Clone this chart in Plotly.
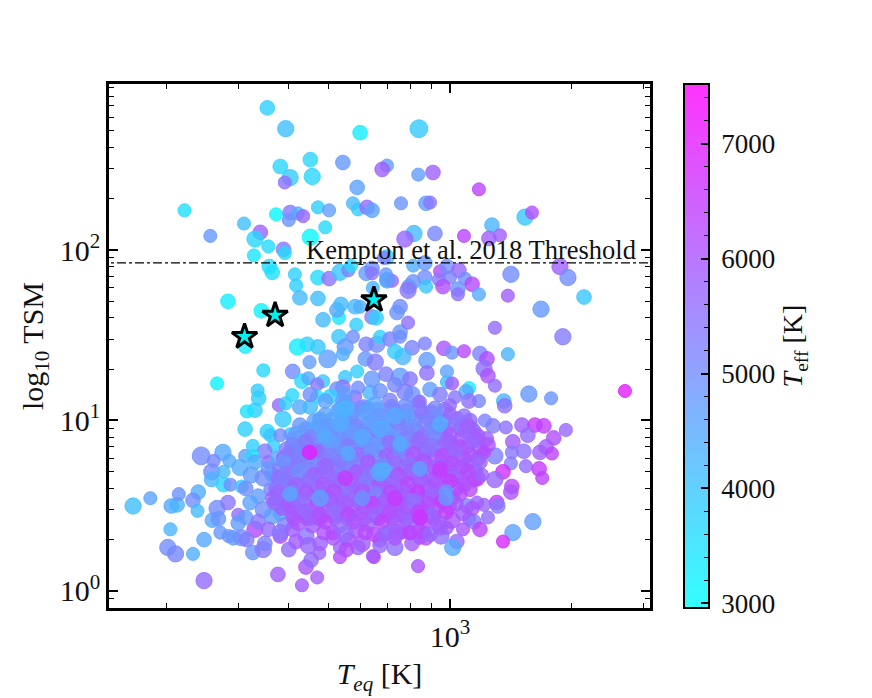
import math
import plotly.graph_objects as go

# sparse planets (outside the dense core)
teq_sparse = [354,393,600,838,452,381,403,457,391,544,699,680,835,908,1179,590,576,593,624,642,
 757,873,893,221,472,503,372,403,421,434,400,310,492,256,340,330,356,328,388,391,
 452,1270,1532,1594,815,774,918,1083,1248,1329,699,687,358,364,414,417,426,472,472,503,
 535,561,570,621,642,642,695,699,719,645,811,867,867,945,983,1052,939,1000,1089,1134,
 961,811,792,873,1046,1046,1179,1414,1869,1956,1390,2143,1678,1900,1291,283,342,312,
 486,532,526,538,583,600,642,657,587,532,576,551,544,499,472,444,420,450,409,346,590,551,431,447,486,470,544,526,
 621,660,618,654,672,711,753,753,788,753,740,788,699,
 266,335,337,330,315,312,354,360,367,326,349,356,312,326,275,243,261,285,258,258,276,276,287,303,323,306,364,391,
 403,381,421,410,400,378,393,387,426,452,408,470,506,544,635,583,628,478,506,452,558,576,541,544,391,381,452,
 165,182,205,212,214,239,232,238,266,283,204,259,268,271,300,300,330,284,292,306,315,247,201,210,232,247,326,346,349,376,431,470,400,441,454,476,535,535,381,441,561,593,645,
 2705,1390,966,1012,1083,1186,1234,1214,1241,1291,1566,1777,1358,1365,1114,983,983,1012,1096,1179,834,877,867,806,765,731,753,877,774,
 1506,1621,1706,1933,1804,1557,1374,1277,1220,1430,1522,1668,1727,1786,1422,1291,1414,1540,1660,1690,1352,1291,1166,1422,1414,1305,1312,1214,1166,1102,1241,1114,1146,1186,1077,1602,1430,1352,1040,1016,950,983,867,843,834,731,649,699,672,761,792,1134,1000]
tsm_sparse = [682,515,488,515,339,309,266,270,249,326,313,297,277,285,227,233,188,173,178,171,
 188,188,190,171,178,171,162,166,164,158,150,143,136,121,127,116,105,93,101,96,
 119,140,156,166,125,116,125,121,117,122,91,90,80,74,72,62,52.5,52,69,68,
 74,76,81,73,78,73,72,66,66,60,81,84,69,75,80,76,67,69,68,63,
 61,65,61,61,59,55,55,72,80,69,54,53,45,31,35,50,44,27,
 39,40,44.5,48,46.5,46.5,40.5,40,36.5,31,31,27,24.5,23,27,28,27,22,19.4,19.7,19.4,18,17,17.7,17,16.3,15.7,15.3,
 28,28,23,22,31,30,33,31,37.5,46.5,43,58,67,
 16.5,15,13.5,11.5,11.3,8.9,8.6,8.2,7.1,7.1,6.6,5.7,6.2,6.2,6.5,6.2,5.8,5.8,5,4.5,5,4.2,4.2,5.3,4.8,4.1,4.8,4.5,
 8.3,8.2,7,6.5,5.3,12.3,12.6,10.2,12,12,14.1,13.8,13.8,13,14.6,13.8,12,9.8,9.3,8.9,10.2,8.2,7.2,5.7,3.2,2.85,2.7,
 3.15,3.5,3.15,3.2,3.7,3.8,3.4,2.95,3.05,3.3,2.3,2.6,2.65,2.2,2.8,2.5,2.3,2.1,2.05,2.05,2,2,1.8,1.65,1.65,1.15,1.68,1.75,1.9,1.25,1.08,1.2,1.75,1.38,1.52,1.67,1.58,1.8,2.1,2.1,2,1.8,1.6,
 14.9,24.5,26.5,25,25.5,24.7,23,20.2,18.3,16,14.3,13.5,13,12.2,15.5,19.4,16.8,16.5,14.7,13,12.8,22.5,28.3,26.7,23.7,25.4,18,19,14.7,
 9.4,9.4,9.3,8.8,7.9,8.2,9.1,9.3,10,7.5,6.6,6.5,7,6.4,6.5,6.2,5.6,5.4,5.2,4.6,5,4.5,4.6,4.1,3.8,3.3,3.15,3.2,3.3,3.15,2.7,2.65,2.55,2.3,2.3,2.55,2.2,1.95,1.95,1.8,2.1,2.35,2.2,2.05,1.4,1.8,1.58,2.2,2,2.2,2.2,9.1,7.4]
teff_sparse = [3800,4100,3300,3900,3700,3700,3900,3700,5500,4800,4700,5800,4700,5800,6300,4600,4200,3900,5600,4600,
 4900,4700,5400,3500,3800,4700,3100,5300,4400,5700,4900,4100,3600,4800,5800,3700,3600,3400,5400,3600,
 3100,4300,4000,6100,4200,5700,5100,6300,5800,5800,3800,5300,3600,3500,3800,3800,4200,4100,3600,5500,
 4000,5200,3600,4700,5000,5400,4800,4300,5700,4300,4400,4800,5000,6200,5000,5700,5400,5200,5000,6200,
 6100,4900,4800,4000,4900,5500,4500,5000,5800,5000,5900,4000,4800,5300,5600,3300,3200,3300,
 4200,3400,4500,4200,4200,4400,5200,3800,3800,4000,5000,4800,4400,4700,4000,3800,3300,4700,5000,3700,3800,4000,3600,4500,4000,5400,5500,4900,
 5200,5000,4800,5300,3800,5200,4800,5000,5500,5000,4900,5400,4600,
 3200,3900,3800,3800,3500,3800,3800,4000,3800,3800,5300,5600,4600,3600,4500,5000,5100,4500,5000,4300,4200,3700,5000,4400,4700,3900,3900,5400,
 4000,5000,5400,4800,4100,5600,3800,3900,4500,4200,3700,3500,3800,4700,4300,5500,3500,4200,4200,4000,4000,5700,5300,5800,4200,4300,4600,
 4100,4600,4500,4300,4900,4400,5000,4200,5000,5400,4300,4500,4900,4800,5600,4700,6200,4900,4800,5000,5300,4500,5000,5100,4400,5600,4900,5400,5200,5800,5900,5900,5600,6000,5600,5700,6200,5800,6200,5400,6300,5700,6000,
 7000,4300,6000,4900,6200,5200,6100,5500,6000,5600,4800,4900,4300,5500,3300,4600,4200,5800,4500,5100,5700,4700,5200,5200,4300,3900,4700,5500,5200,
 5800,6500,6400,5700,6100,5600,5500,5300,5200,5900,5500,5800,5900,6300,5400,5200,5300,5600,6500,6300,6700,5700,6800,6300,6000,6500,5300,5700,5800,5200,5600,5800,5300,6300,6000,4700,4600,6800,5700,4500,5500,5900,5900,5900,6000,5500,6000,4500,5800,6300,5900,4200,4600]
rp_sparse = [2,3,2,4,2,2,3,3,1,2,1,2,1,2,1,2,1,1,2,2,
 1,2,1,1,1,1,1,2,1,1,1,1,1,1,2,3,1,1,2,1,
 3,2,3,1,3,3,2,1,2,1,2,1,2,2,1,1,2,2,2,2,
 3,1,1,2,2,1,1,2,1,1,1,2,2,1,2,2,1,1,1,2,
 2,2,2,1,2,1,1,3,3,3,1,2,3,3,1,2,2,1,
 2,1,2,2,2,1,2,2,1,2,1,3,1,4,2,2,3,1,2,1,1,1,2,1,1,1,2,2,
 2,3,2,3,1,2,2,1,1,2,2,3,2,
 1,1,2,2,1,2,2,1,1,1,2,1,1,1,3,4,1,1,3,2,1,2,1,3,3,1,2,3,
 1,1,2,2,1,1,1,3,2,2,1,1,2,2,2,1,1,3,2,1,3,1,3,2,2,2,3,
 3,1,2,2,1,2,2,1,3,2,1,2,2,1,1,2,3,1,2,3,2,2,3,3,1,3,2,3,2,2,1,1,2,2,2,1,1,1,2,3,2,2,1,
 1,1,2,1,1,2,2,3,2,1,3,1,2,2,1,1,1,1,2,1,1,3,1,2,3,2,4,2,3,
 2,2,2,1,2,2,1,2,1,2,2,2,2,1,1,3,1,1,2,1,2,3,3,2,2,2,2,1,1,2,1,1,2,2,1,3,3,1,2,3,3,1,1,1,1,3,1,2,2,1,1,1,2]

# rim of the dense core: left flank, lower edge, upper edge
teq_rim = [313,336,360,321,346,372,313,336,364,391,356,381,408,417,447,478,515,555,607,672,
 731,806,873,945,1012,1077,1134,403,376,356,346,330,372,417,
 672,731,806,893,551,593,642,695,797,945,1029,1114,492,452]
tsm_rim = [4,3.6,3.95,3.3,3,3.3,2.7,2.55,2.75,2.45,2.3,2.2,2.3,1.95,1.85,1.9,2.05,1.75,1.9,1.85,
 2.05,1.9,2.05,2.35,2.6,2.85,3.05,5.2,6,5.2,4.6,5.7,4.7,6.1,
 14.9,16.2,14.2,15.2,14.3,15.6,17.5,18.7,17.5,14.2,13.7,13,13,14.2]
teff_rim = [5000,4700,5100,4600,5000,5300,4800,5400,4700,5200,5600,5400,5800,5900,5700,5800,6000,6100,5900,5700,
 6000,5900,6100,5800,6000,5900,6000,4600,4500,4800,5000,4500,4900,4700,
 4900,5100,5000,4700,4700,5000,4800,5200,5400,5300,5400,5500,4600,5000]
rp_rim = [2,2,1,2,3,2,2,2,3,2,2,3,2,2,3,2,2,2,3,2,
 2,2,2,2,3,2,2,2,2,2,3,2,2,2,
 2,2,3,2,2,1,3,2,2,2,1,2,2,2]

# second layer of the dense core
teq_fill = [535,574,613,665,719,780,843,900,970,
 478,510,551,600,650,705,762,820,885,960,1040,1120,
 440,474,512,555,604,654,705,766,830,900,975,1060,1150,
 412,445,482,522,566,612,665,720,780,843,910,990,1070,1160,1230,
 395,425,460,498,540,586,635,690,745,805,870,945,1020,1100,1190,
 390,420,455,492,530,575,622,675,730,790,855,925,1000,1085,1175,
 380,412,448,484,525,568,615,668,720,780,845,915,990,1070,1155,
 378,410,445,480,522,565,612,665,715,775,840,910,985,1065,1150,
 372,405,435,472,510,552,600,648,705,762,825,890,960,1040,1120,
 365,395,425,462,500,540,585,635,690,745,805,870,945,1015,
 385,412,450,488,530,575,620,670,728,785,850,920,995,
 412,445,478,520,562,612,665,720,780,842,910,
 515,585,650,740,840]
tsm_fill = [11.7,11.3,12,11.6,11.9,11.4,11.8,11.2,11.6,
 10.2,10,10.4,9.9,10.3,10,10.4,10,10.3,9.9,10.2,10,
 8.9,9.1,8.8,9,8.7,9,8.8,9.1,8.7,9,8.8,9,8.7,
 7.8,7.6,7.9,7.7,8,7.6,7.9,7.7,8,7.7,7.9,7.6,7.9,7.7,7.8,
 6.8,7,6.7,6.9,6.8,7,6.7,6.9,6.8,7,6.7,6.9,6.8,7,6.7,
 6,5.9,6.1,5.9,6,6.1,5.9,6,6.1,5.9,6,6.1,5.9,6,6,
 5.2,5.3,5.1,5.3,5.2,5.3,5.1,5.3,5.2,5.3,5.1,5.3,5.2,5.3,5.1,
 4.6,4.7,4.5,4.7,4.6,4.5,4.7,4.6,4.5,4.7,4.6,4.5,4.7,4.6,4.5,
 4,4.05,3.95,4.05,4,3.95,4.05,4,3.95,4.05,4,3.95,4.05,4,3.95,
 3.5,3.55,3.45,3.55,3.5,3.45,3.55,3.5,3.45,3.55,3.5,3.45,3.55,3.5,
 3.06,3.1,3,3.1,3.05,3,3.1,3.05,3,3.1,3.05,3,3.1,
 2.68,2.7,2.65,2.7,2.68,2.65,2.7,2.68,2.65,2.7,2.68,
 2.2,2.25,2.15,2.2,2.25]
teff_fill = [4800,4700,5100,4800,5000,4800,5300,5500,5300,
 4700,4500,4800,4700,4600,4900,4700,5200,5400,5000,5700,5600,
 4800,4700,5000,4700,4700,4900,5100,4800,5400,4900,5700,5800,5800,
 5100,4800,4900,4800,5100,4700,5300,5000,5500,5000,5500,5700,6000,5900,5800,
 5300,5000,5400,5100,5300,4900,5400,5000,5600,5300,5800,5500,6000,6100,5800,
 5500,5300,5000,5600,5200,5700,5400,4900,5700,5900,5400,6000,5700,6200,6000,
 5300,5600,5700,5400,5800,5500,5200,5700,5400,6000,5800,6100,5700,6300,5800,
 5600,5400,5900,5500,6000,5700,5900,5400,6100,5700,6200,5900,6300,6000,6200,
 5500,5800,5700,6000,5700,5900,5600,6100,5800,6300,5900,6200,5900,6400,6200,
 5800,5700,6000,5900,6100,5700,6200,5900,6300,5800,6100,5900,6400,6000,
 5900,6000,5800,6200,5900,6100,6300,5900,6200,6000,6500,6100,6200,
 6100,5900,6300,5900,6000,6400,5800,6200,6000,6300,6100,
 6200,6000,6300,5900,6200]
rp_fill = [2,3,2,2,3,2,2,2,2,
 2,3,2,3,2,2,3,2,2,3,2,2,
 2,2,2,3,2,3,2,3,2,2,2,2,1,
 2,3,2,2,3,2,2,3,2,3,2,2,2,2,2,
 2,3,2,3,2,3,2,2,3,2,2,3,2,2,2,
 3,2,2,2,3,2,3,2,3,2,2,3,2,2,2,
 2,2,3,2,2,3,2,3,2,3,2,2,3,2,2,
 2,3,2,3,2,3,2,3,2,2,3,2,2,2,2,
 2,2,3,2,3,2,3,2,3,2,2,3,2,2,2,
 2,3,2,2,3,2,3,2,2,3,2,3,2,2,
 2,3,2,2,3,2,3,2,3,2,2,2,2,
 2,3,2,2,3,2,3,2,2,3,2,
 2,2,2,3,2]

# dense core, row by row
teq_core = [551,600,654,711,774,843,918,1000,
 492,528,574,624,672,727,788,852,926,1000,1083,
 426,462,499,541,587,635,688,744,806,873,945,1023,1108,
 417,452,486,529,574,621,672,727,788,852,918,1000,1083,1172,
 408,441,478,517,561,607,657,711,770,834,903,978,1058,1134,1241,
 400,431,470,506,548,593,642,695,753,815,882,956,1034,1121,1214,
 389,421,457,492,535,580,628,680,736,797,861,935,1012,1096,1186,
 393,426,462,499,541,587,635,688,744,806,873,945,1023,1108,1200,
 385,417,452,486,529,574,621,672,727,788,852,918,1000,1083,
 376,408,441,478,517,561,607,657,711,770,834,903,978,1058,
 369,400,431,470,506,548,593,642,695,753,815,882,956,1034,
 408,441,478,517,561,607,657,711,770,834,903,978,
 421,457,492,535,580,628,680,736,797,861,935,
 489,551,618,688,797,893,
 551,843,731,945,450,
 672,607,535,753,478,561,945,731,978,607,492,551,843,403,672]
tsm_core = [12.8,11.9,12.5,13.1,12,12.9,11.8,12.3,
 10.8,11.4,10.6,11.2,10.7,11.5,10.5,11.1,10.4,11,10.6,
 9.4,9.9,9.2,9.7,9.3,9.8,9.1,9.6,9.2,9.7,9,9.5,9.3,
 8.4,8.1,8.6,8,8.5,8.2,8.6,8.1,8.4,8,8.5,8.2,8.6,8.1,
 7.2,7.5,7.1,7.4,7,7.5,7.2,7.4,7,7.5,7.1,7.4,7,7.5,7.2,
 6.5,6.3,6.6,6.2,6.5,6.3,6.6,6.2,6.5,6.3,6.6,6.2,6.5,6.3,6.5,
 5.7,5.5,5.6,5.4,5.7,5.5,5.7,5.4,5.6,5.5,5.7,5.4,5.6,5.5,5.7,
 4.9,5,4.8,5,4.8,5,4.8,5,4.8,5,4.8,5,4.8,5,4.8,
 4.3,4.2,4.4,4.2,4.4,4.2,4.4,4.2,4.4,4.2,4.4,4.2,4.4,4.2,
 3.8,3.7,3.8,3.7,3.8,3.7,3.8,3.7,3.8,3.7,3.8,3.7,3.8,3.7,
 3.3,3.25,3.35,3.25,3.35,3.25,3.35,3.25,3.35,3.25,3.35,3.25,3.35,3.25,
 2.85,2.9,2.8,2.9,2.8,2.9,2.8,2.9,2.8,2.9,2.8,2.9,
 2.5,2.45,2.55,2.45,2.55,2.45,2.55,2.45,2.55,2.45,2.5,
 2.2,2.15,2.2,2.15,2.2,2.15,
 4.6,2.7,3.5,5.2,6.5,
 5,8,9.5,7.3,3.5,6.4,9.5,10.6,3.5,3.5,8,11.7,5.2,3.7,8.9]
teff_core = [4700,5000,4600,5200,5000,5500,5100,5600,
 4600,4500,4900,4600,4800,5100,4700,5400,5000,5700,5500,
 4800,4600,4800,4500,5100,4700,4600,5300,4900,5200,5600,5400,5800,
 4700,5200,4600,5000,4800,5100,5500,4800,5200,5600,5000,5900,5700,5900,
 5100,5400,5000,4700,5300,5000,4800,5500,5100,5600,5400,5700,6000,5700,6000,
 5400,5200,5600,5200,4900,5600,4900,5800,5100,6000,5500,6100,5700,6000,6200,
 4900,5300,5100,5700,5300,5100,5900,5000,5600,5400,6000,5700,6100,5900,5700,
 5400,5000,5800,5600,5200,5900,5400,4400,6000,5700,5900,6300,5800,6100,5700,
 5300,5700,5500,5900,5600,5800,5300,5900,5700,6200,5800,6000,6400,6100,
 5700,5300,5900,5700,6000,5500,5900,5100,6100,5800,6400,5700,4800,6200,
 5600,5900,5500,6100,5800,5900,5700,6300,5900,6000,5500,6100,6500,5900,
 5900,5700,6000,5600,6200,5900,5700,6100,5900,6300,5700,6400,
 6000,5900,6200,5700,6000,5800,6300,5900,5700,6100,5900,
 6100,5600,6200,5800,6300,5700,
 6500,6600,6500,6400,7000,
 4500,4500,4500,4400,4600,4500,4400,4500,4700,4900,4500,4300,4600,4500,4400]
rp_core = [2,1,2,2,3,1,2,1,
 2,2,1,3,2,2,3,2,2,1,2,
 2,2,3,2,2,2,3,2,2,3,2,1,2,
 2,1,2,3,2,2,3,2,2,2,3,2,1,2,
 2,2,2,2,3,2,2,2,3,2,2,2,2,1,2,
 1,2,2,3,2,2,3,2,2,3,2,2,2,2,1,
 2,2,2,3,2,3,2,3,2,2,3,2,2,2,2,
 2,3,2,2,3,2,3,4,2,3,2,2,2,2,1,
 2,2,3,2,3,2,2,3,2,3,2,2,2,2,
 2,3,2,2,3,2,3,2,2,3,2,2,2,2,
 2,2,3,2,2,3,2,2,3,2,3,2,2,2,
 2,3,2,3,2,2,3,2,3,2,2,2,
 2,3,2,3,2,2,2,3,2,2,3,
 2,3,2,2,2,2,
 2,2,2,2,2,
 4,3,3,2,3,2,2,3,2,2,2,3,2,2,3]

# highlighted targets
teq_star = [311, 370, 649]
tsm_star = [31, 41.4, 51]
teff_star = [3200, 3200, 3300]

threshold = 84
threshold_label = "Kempton et al. 2018 Threshold"
cbar_major = [3000, 4000, 5000, 6000, 7000]
cbar_minor = list(range(3000, 7501, 200))
teff_min, teff_max = 2960, 7520

teq = teq_sparse + teq_rim + teq_fill + teq_core
tsm = tsm_sparse + tsm_rim + tsm_fill + tsm_core
teff = teff_sparse + teff_rim + teff_fill + teff_core
rp = rp_sparse + rp_rim + rp_fill + rp_core
assert len(teq) == len(tsm) == len(teff) == len(rp), (len(teq), len(tsm), len(teff), len(rp))

FONT = "Liberation Serif"
INK = "#111"
COOL = [[0, "rgba(0,255,255,0.8)"], [1, "rgba(255,0,255,0.8)"]]
CLEAR = [[0, "rgba(0,0,0,0)"], [1, "rgba(0,0,0,0)"]]
sizes = [11.5 + 1.6 * r for r in rp]

fig = go.Figure()
fig.add_trace(go.Scatter(
    x=teq, y=tsm, mode="markers", showlegend=False,
    marker=dict(size=sizes, opacity=1, color=teff, cmin=teff_min, cmax=teff_max, colorscale=COOL,
                line=dict(width=1, color=teff, cmin=teff_min, cmax=teff_max, colorscale=COOL),
                colorbar=dict(x=1.0628, xanchor="left", xpad=0, ypad=0, y=0.5, yanchor="middle", len=1, lenmode="fraction",
                              thickness=25, outlinewidth=2, outlinecolor="black",
                              tickmode="array", tickvals=cbar_major, ticktext=["\u2009" + str(v) for v in cbar_major],
                              ticks="inside", ticklen=9, tickwidth=1.5, tickcolor="black",
                              tickfont=dict(family=FONT, size=27, color=INK),
                              title=dict(text="<i>T</i><sub>eff</sub> [K]", side="right",
                                         font=dict(family=FONT, size=28, color=INK))))))
fig.add_trace(go.Scatter(
    x=[100, 4000], y=[threshold, threshold], mode="lines", showlegend=False,
    line=dict(color="black", width=1.2, dash="dashdot")))
fig.add_trace(go.Scatter(
    x=teq_star, y=tsm_star, mode="markers", showlegend=False,
    marker=dict(symbol="star", size=19, opacity=1, color="rgb(0,240,240)", line=dict(color="black", width=3))))
# transparent colorbar on top: carries only the minor ticks
fig.add_trace(go.Scatter(
    x=teq_star, y=tsm_star, mode="markers", showlegend=False, hoverinfo="skip",
    marker=dict(size=1, opacity=0, color=teff_star, cmin=teff_min, cmax=teff_max, colorscale=CLEAR,
                colorbar=dict(x=1.0628, xanchor="left", xpad=0, ypad=0, y=0.5, yanchor="middle", len=1, lenmode="fraction",
                              thickness=25, outlinewidth=0, bgcolor="rgba(0,0,0,0)", showticklabels=False,
                              tickmode="array", tickvals=cbar_minor,
                              ticks="inside", ticklen=5, tickwidth=1.2, tickcolor="black"))))

fig.add_annotation(x=math.log10(437), y=2.0, xref="x", yref="y", xanchor="left", yanchor="middle",
                   text=threshold_label, showarrow=False, font=dict(family=FONT, size=26.5, color=INK))

xminor = [200, 300, 400, 500, 600, 700, 800, 900, 2000, 3000]
yminor = [0.8, 0.9, 2, 3, 4, 5, 6, 7, 8, 9, 20, 30, 40, 50, 60, 70, 80, 90, 200, 300, 400, 500, 600, 700, 800, 900]
axis_common = dict(type="log", showgrid=False, zeroline=False, showline=True, linecolor="black", linewidth=2.5,
                   mirror="allticks", ticks="inside", ticklen=9, tickwidth=1.5, tickcolor="black",
                   tickfont=dict(family=FONT, size=30, color=INK))
fig.update_layout(
    width=864, height=690, margin=dict(l=101, r=222, t=76, b=88),
    paper_bgcolor="white", plot_bgcolor="white", showlegend=False,
    xaxis=dict(axis_common, range=[2.158, 3.494], tickvals=[1000], ticktext=["10<sup>3</sup>"],
               minor=dict(tickmode="array", tickvals=xminor, ticks="inside", ticklen=5, tickwidth=1.2, tickcolor="black", showgrid=False),
               title=dict(text="<i>T</i><sub><i>eq</i></sub> [K]", standoff=12, font=dict(family=FONT, size=30, color=INK))),
    yaxis=dict(axis_common, range=[-0.1, 2.974], tickvals=[1, 10, 100], ticktext=["10<sup>0</sup>", "10<sup>1</sup>", "10<sup>2</sup>"],
               minor=dict(tickmode="array", tickvals=yminor, ticks="inside", ticklen=5, tickwidth=1.2, tickcolor="black", showgrid=False),
               title=dict(text="log<sub>10</sub> TSM", standoff=8, font=dict(family=FONT, size=30, color=INK))),
)
fig.write_html("out.html")
